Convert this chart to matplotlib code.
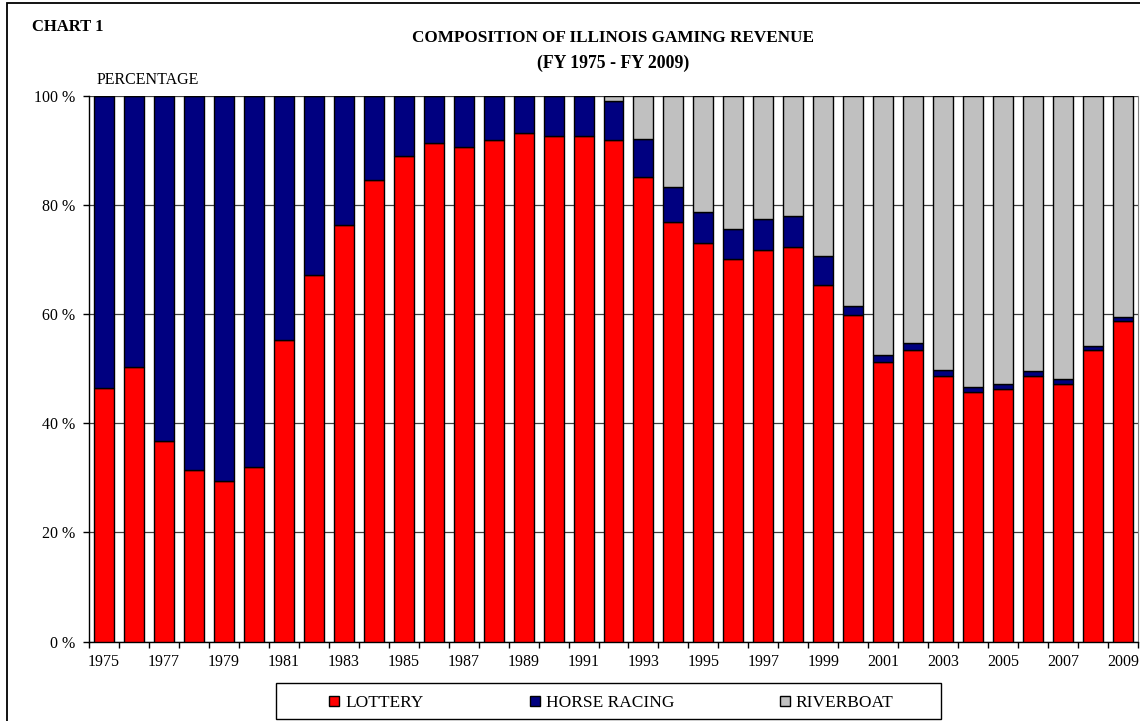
import numpy as np
import matplotlib
matplotlib.use("Agg")
import matplotlib.pyplot as plt
from matplotlib.patches import Rectangle, Patch

plt.rcParams["font.family"] = ["Liberation Serif", "DejaVu Serif"]

YEARS = list(range(1975, 2010))

# percentage share of total gaming revenue
LOTTERY = [46.4, 50.3, 36.8, 31.4, 29.4, 31.9, 55.2, 67.1, 76.4, 84.6,
           89.0, 91.3, 90.6, 91.9, 93.2, 92.6, 92.6, 91.9, 85.2, 76.9,
           73.0, 70.1, 71.7, 72.4, 65.4, 59.9, 51.3, 53.4, 48.7, 45.7,
           46.2, 48.7, 47.2, 53.4, 58.8]
HORSE_RACING = [53.6, 49.7, 63.2, 68.6, 70.6, 68.1, 44.8, 32.9, 23.6, 15.4,
                11.0, 8.7, 9.4, 8.1, 6.8, 7.4, 7.4, 7.1, 7.0, 6.5,
                5.7, 5.5, 5.8, 5.6, 5.3, 1.6, 1.3, 1.4, 1.1, 1.0,
                1.0, 0.9, 0.9, 0.7, 0.6]
RIVERBOAT = [0, 0, 0, 0, 0, 0, 0, 0, 0, 0,
             0, 0, 0, 0, 0, 0, 0, 1.0, 7.8, 16.6,
             21.3, 24.4, 22.5, 22.0, 29.3, 38.5, 47.4, 45.2, 50.2, 53.3,
             52.8, 50.4, 51.9, 45.9, 40.6]

SERIES = ["LOTTERY", "HORSE RACING", "RIVERBOAT"]
COLORS = ["#FF0000", "#000080", "#C0C0C0"]

W, H = 1140, 721
fig = plt.figure(figsize=(W / 100, H / 100), dpi=100)
ax = fig.add_axes([89 / W, 1 - 641.5 / H, (1138 - 89) / W, (641.5 - 96) / H])

x = np.arange(len(YEARS))
bottom = np.zeros(len(YEARS))
for vals, col in zip([LOTTERY, HORSE_RACING, RIVERBOAT], COLORS):
    v = np.array(vals, dtype=float)
    ax.bar(x, v, width=0.667, bottom=bottom, color=col, edgecolor="black",
           linewidth=1.0, zorder=3)
    bottom += v

ax.set_xlim(-0.5, len(YEARS) - 0.5)
ax.set_ylim(0, 100)
ax.set_yticks(np.arange(0, 101, 20))
ax.set_yticklabels([f"{v} %" for v in range(0, 101, 20)])
ax.yaxis.grid(True, color="#404040", linewidth=0.9, zorder=0)
ax.set_axisbelow(True)

ax.set_xticks(x[::2])
ax.set_xticklabels([str(y) for y in YEARS[::2]])
ax.set_xticks(np.arange(-0.5, len(YEARS), 1.0), minor=True)
ax.tick_params(axis="x", which="major", length=0, pad=9, labelsize=11.5)
ax.tick_params(axis="x", which="minor", length=4, width=1, direction="out")
ax.tick_params(axis="y", length=4, width=1, direction="out", pad=6, labelsize=11.5)

for s in ["left", "bottom"]:
    ax.spines[s].set_color("black")
    ax.spines[s].set_linewidth(1.0)
ax.spines["top"].set_visible(False)
ax.spines["right"].set_color("#808080")

# texts
fig.text(32 / W, 1 - 27 / H, "CHART 1", fontsize=12, fontweight="bold",
         ha="left", va="center")
fig.text(613.5 / W, 1 - 38 / H, "COMPOSITION OF ILLINOIS GAMING REVENUE",
         fontsize=12.3, fontweight="bold", ha="center", va="center")
fig.text(613.5 / W, 1 - 63 / H, "(FY 1975 - FY 2009)",
         fontsize=12.8, fontweight="bold", ha="center", va="center")
fig.text(97 / W, 1 - 80 / H, "PERCENTAGE", fontsize=11.5, ha="left", va="center")

# legend
handles = [Patch(facecolor=c, edgecolor="black", linewidth=1.0) for c in COLORS]
fig.legend(handles, SERIES, loc="center", bbox_to_anchor=(611.5 / W, 1 - 703 / H),
           ncol=3, frameon=False, fontsize=12.5, handlelength=0.57,
           handleheight=0.57, handletextpad=0.35, columnspacing=6.1)
fig.patches.append(Rectangle((276 / W, 1 - 719 / H), (941 - 276) / W, 36 / H,
                             transform=fig.transFigure, fill=False,
                             edgecolor="black", linewidth=1.0))

# outer frame of the sheet
fig.patches.append(Rectangle((7 / W, -0.05), 1.05, 1.05 - 3 / H,
                             transform=fig.transFigure, fill=False,
                             edgecolor="black", linewidth=1.3))

fig.savefig("out.png", dpi=100)
